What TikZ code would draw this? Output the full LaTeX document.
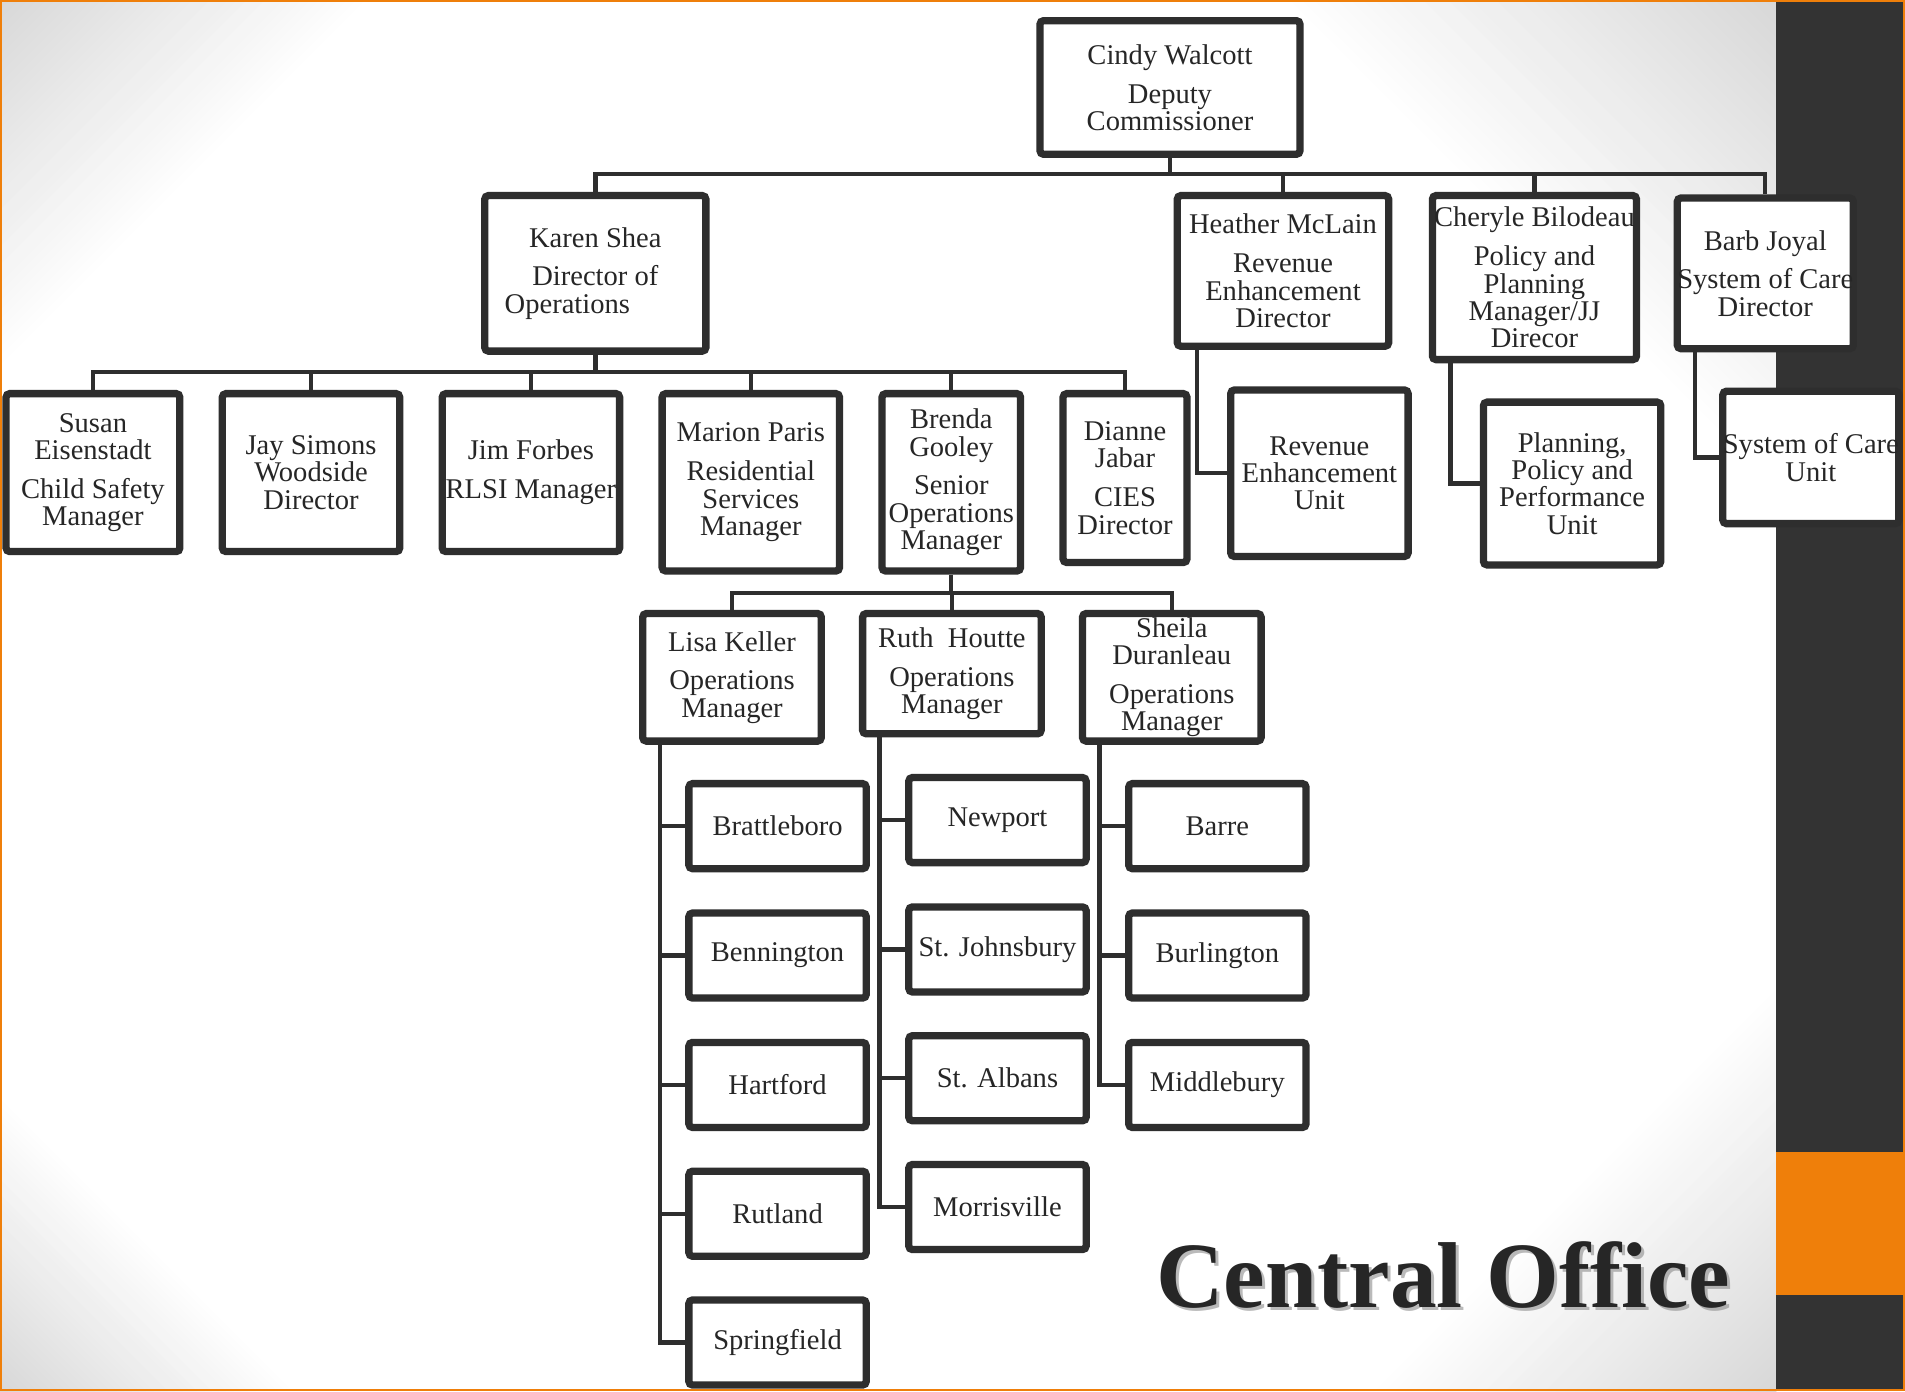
\documentclass[tikz,border=0pt]{standalone}
\usepackage{fontspec}
\setmainfont{Liberation Serif}
\definecolor{lc}{HTML}{2E2E2E}
\definecolor{tc}{HTML}{262626}
\definecolor{barc}{HTML}{333333}
\definecolor{orng}{HTML}{EF7F0A}
\definecolor{bgg}{HTML}{D8D8D8}
\newcommand\fsz{\fontsize{11.75pt}{11.25pt}\selectfont}
\newcommand\gapsz{4.75pt}
% corner fade: corner x, corner y, x-direction sign, y-direction sign, extent
\newcommand\cornerfade[5]{%
  \foreach \k in {1,...,40}{%
    \pgfmathsetmacro\ee{#5*(41-\k)/40}%
    \pgfmathtruncatemacro\pp{100*\k/40}%
    \fill[bgg!\pp!white] (#1,#2) -- ({#1+#3*\ee},#2) -- (#1,{#2+#4*\ee}) -- cycle;
  }}
\begin{document}
\begin{tikzpicture}[x=0.5pt,y=-0.5pt,
  bx/.style 2 args={draw=lc, line width=3pt, fill=white, rounded corners=1.5pt,
    inner sep=0pt, minimum width={(#1-6)*0.5pt}, minimum height={(#2-6)*0.5pt},
    align=center, font=\fsz, text=tc},
  conn/.style={draw=lc, line width=1.8pt}]
% background
\useasboundingbox (0,0) rectangle (1568,1145);
\begin{scope}
\clip (0,0) rectangle (1568,1145);
\fill[white] (0,0) rectangle (1568,1145);
\cornerfade{0}{0}{1}{1}{300}
\cornerfade{0}{1145}{1}{-1}{240}
\cornerfade{1462}{0}{-1}{1}{400}
\cornerfade{1462}{1145}{-1}{-1}{330}
\fill[barc] (1462,0) rectangle (1568,1145);
\fill[orng] (1462,948) rectangle (1568,1066);
\draw[orng, line width=1pt] (1,1) rectangle (1567,1144);
\end{scope}
% title
\node[anchor=base, text=black!45, opacity=0.6, font=\fontsize{38.5pt}{40pt}\selectfont\bfseries] (titleshadow) at (1190.5,1079) {Central Office};
\node[anchor=base, text=tc, font=\fontsize{38.5pt}{40pt}\selectfont\bfseries] (title) at (1188,1076) {Central Office};
% boxes
\node[bx={220}{116}] (cindy) at (963,72) {Cindy Walcott\\[\gapsz]Deputy\\Commissioner};
\node[bx={188}{134}] (karen) at (490,225) {Karen Shea\\[\gapsz]Director of\\Operations\rule{23pt}{0pt}};
\node[bx={180}{130}] (heather) at (1056,223) {Heather McLain\\[\gapsz]Revenue\\Enhancement\\Director};
\node[bx={174}{141}] (cheryle) at (1263,228.5) {Cheryle Bilodeau\\[\gapsz]Policy and\\Planning\\Manager/JJ\\Direcor};
\node[bx={150}{130}] (barb) at (1453,225) {Barb Joyal\\[\gapsz]System of Care\\Director};
\node[bx={149}{136}] (susan) at (76.5,389) {Susan\\Eisenstadt\\[\gapsz]Child Safety\\Manager};
\node[bx={152}{136}] (jay) at (256,389) {Jay Simons\\Woodside\\Director};
\node[bx={152}{136}] (jim) at (437,389) {Jim Forbes\\[\gapsz]RLSI Manager};
\node[bx={152}{152}] (marion) at (618,397) {Marion Paris\\[\gapsz]Residential\\Services\\Manager};
\node[bx={120}{152}] (brenda) at (783,397) {Brenda\\Gooley\\[\gapsz]Senior\\Operations\\Manager};
\node[bx={108}{145}] (dianne) at (926,393.5) {Dianne\\Jabar\\[\gapsz]CIES\\Director};
\node[bx={152}{143}] (revunit) at (1086,389.5) {Revenue\\Enhancement\\Unit};
\node[bx={152}{140}] (planunit) at (1294,398) {Planning,\\Policy and\\Performance\\Unit};
\node[bx={149}{115}] (socunit) at (1490.5,376.5) {System of Care\\Unit};
\node[bx={153}{111}] (lisa) at (602.5,557.5) {Lisa Keller\\[\gapsz]Operations\\Manager};
\node[bx={153}{105}] (ruth) at (783.5,554.5) {Ruth\ \ Houtte\\[\gapsz]Operations\\Manager};
\node[bx={153}{111}] (sheila) at (964.5,557.5) {Sheila\\Duranleau\\[\gapsz]Operations\\Manager};
\node[bx={152}{76}] (brattleboro) at (640,680) {Brattleboro};
\node[bx={152}{76}] (bennington) at (640,786.5) {Bennington};
\node[bx={152}{76}] (hartford) at (640,893) {Hartford};
\node[bx={152}{76}] (rutland) at (640,999) {Rutland};
\node[bx={152}{76}] (springfield) at (640,1105) {Springfield};
\node[bx={152}{76}] (newport) at (821,675) {Newport};
\node[bx={152}{76}] (stjohnsbury) at (821,781.5) {St. Johnsbury};
\node[bx={152}{76}] (stalbans) at (821,887.5) {St. Albans};
\node[bx={152}{76}] (morrisville) at (821,993.5) {Morrisville};
\node[bx={152}{76}] (barre) at (1002,680) {Barre};
\node[bx={152}{76}] (burlington) at (1002,786.5) {Burlington};
\node[bx={152}{76}] (middlebury) at (1002,893) {Middlebury};
% connectors
\coordinate (b1) at (963,143);
\draw[conn] (cindy.south) -- (cindy.south |- b1);
\draw[conn] (karen.north) -- (karen.north |- b1) -- (barb.north |- b1) -- (barb.north);
\draw[conn] (heather.north) -- (heather.north |- b1);
\draw[conn] (cheryle.north) -- (cheryle.north |- b1);
\coordinate (b2) at (489,306);
\draw[conn] (karen.south) -- (karen.south |- b2);
\draw[conn] (susan.north) -- (susan.north |- b2) -- (dianne.north |- b2) -- (dianne.north);
\foreach \n in {jay,jim,marion,brenda} \draw[conn] (\n.north) -- (\n.north |- b2);
\coordinate (hx) at (985,0);
\draw[conn] (hx |- heather.south) |- (revunit.west);
\coordinate (cx) at (1194,0);
\draw[conn] (cx |- cheryle.south) |- (planunit.west);
\coordinate (sx) at (1395,0);
\draw[conn] (sx |- barb.south) |- (socunit.west);
\coordinate (b3) at (783,488);
\draw[conn] (brenda.south) -- (brenda.south |- b3);
\draw[conn] (lisa.north) -- (lisa.north |- b3) -- (sheila.north |- b3) -- (sheila.north);
\draw[conn] (ruth.north) -- (ruth.north |- b3);
\coordinate (lx) at (543,0);
\draw[conn] (lx |- lisa.south) |- (springfield.west);
\foreach \n in {brattleboro,bennington,hartford,rutland} \draw[conn] (lx |- \n.west) -- (\n.west);
\coordinate (rx) at (724,0);
\draw[conn] (rx |- ruth.south) |- (morrisville.west);
\foreach \n in {newport,stjohnsbury,stalbans} \draw[conn] (rx |- \n.west) -- (\n.west);
\coordinate (shx) at (905,0);
\draw[conn] (shx |- sheila.south) |- (middlebury.west);
\foreach \n in {barre,burlington} \draw[conn] (shx |- \n.west) -- (\n.west);
\end{tikzpicture}
\end{document}
